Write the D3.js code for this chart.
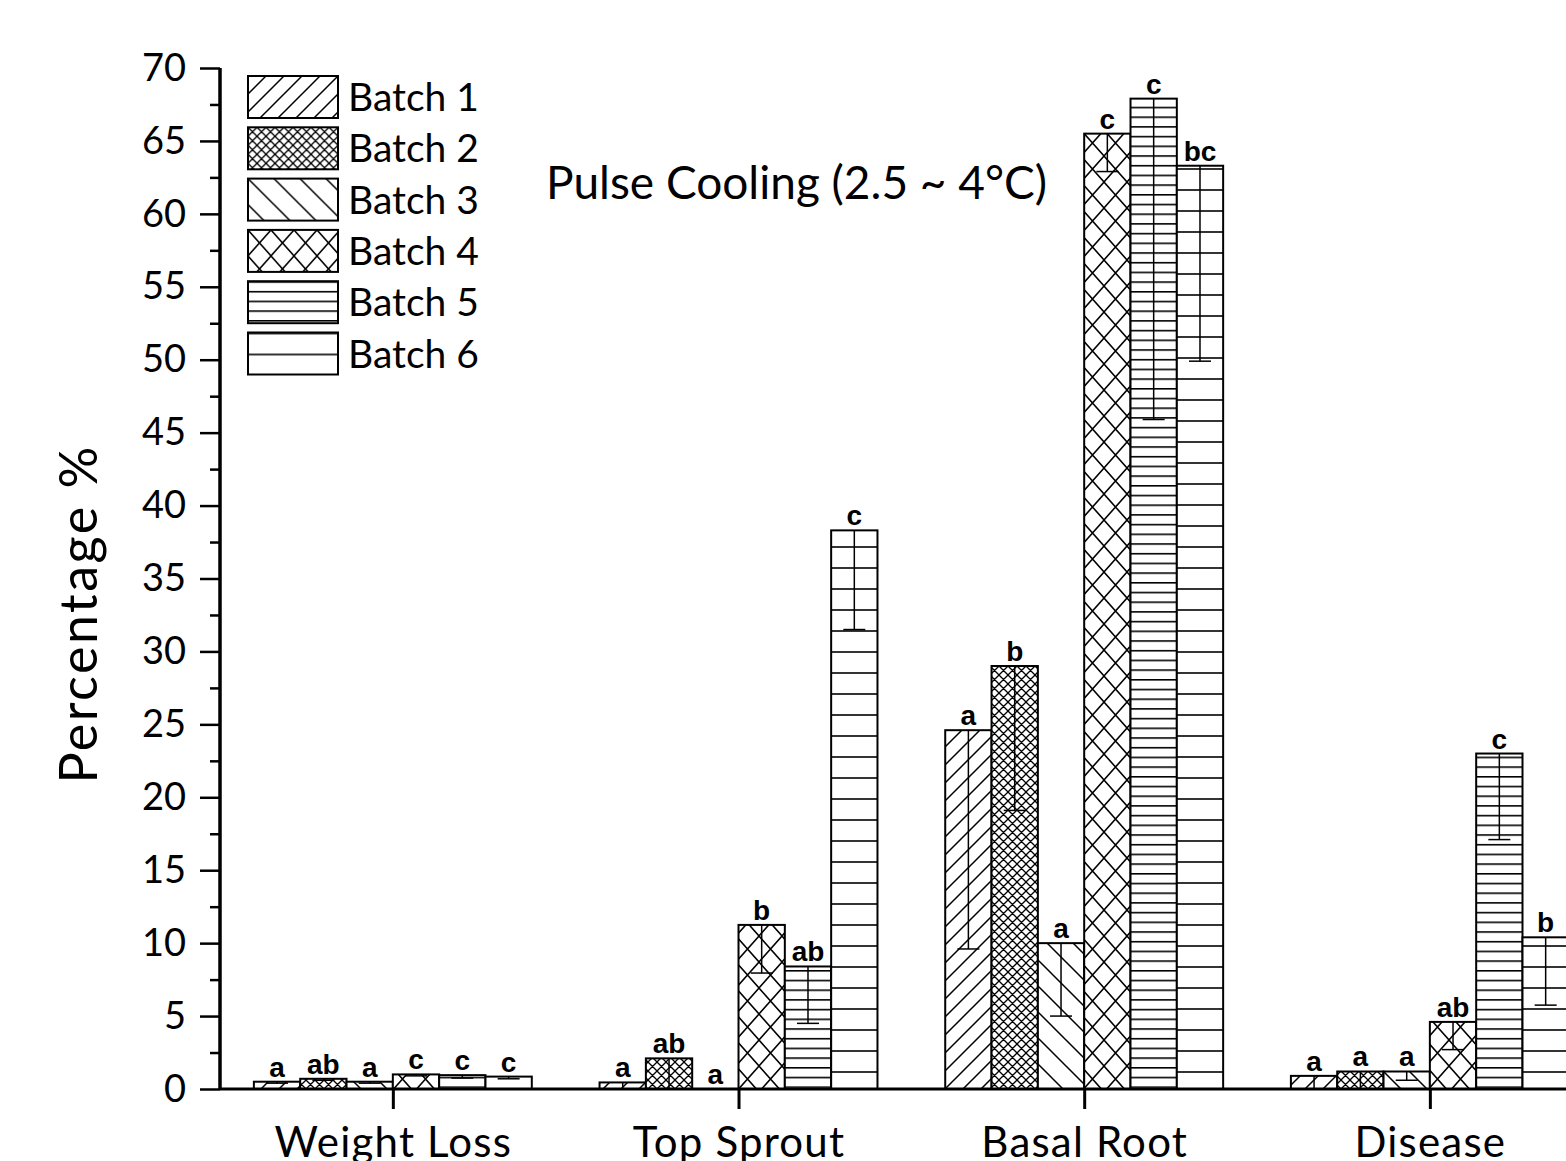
<!DOCTYPE html>
<html>
<head>
<meta charset="utf-8">
<script src="https://cdn.jsdelivr.net/npm/d3@7"></script>
<style>
  html, body { margin: 0; padding: 0; background: #fff; overflow: hidden; }
  svg { display: block; }
</style>
</head>
<body>
<svg id="chart" width="1566" height="1161"></svg>
<script>
// Categories and batch names
const categories = ["Weight Loss", "Top Sprout", "Basal Root", "Disease"];
const batchNames = ["Batch 1", "Batch 2", "Batch 3", "Batch 4", "Batch 5", "Batch 6"];

// Mean percentages per batch (one value per category)
const batch1 = [0.5, 0.45, 24.6, 0.9];
const batch2 = [0.7, 2.1, 29.0, 1.2];
const batch3 = [0.5, 0.0, 10.0, 1.2];
const batch4 = [1.0, 11.25, 65.5, 4.6];
const batch5 = [0.95, 8.4, 67.9, 23.0];
const batch6 = [0.85, 38.3, 63.3, 10.4];

// Lower error (drawn downward from the bar top)
const batch1Err = [0.1, 0.45, 15.0, 0.9];
const batch2Err = [0.1, 2.1, 9.9, 1.2];
const batch3Err = [0.1, 0.0, 5.0, 0.6];
const batch4Err = [0.1, 3.3, 2.6, 1.9];
const batch5Err = [0.2, 3.9, 22.0, 5.9];
const batch6Err = [0.15, 6.8, 13.4, 4.65];

// Significance letters
const batch1Sig = ["a", "a", "a", "a"];
const batch2Sig = ["ab", "ab", "b", "a"];
const batch3Sig = ["a", "a", "a", "a"];
const batch4Sig = ["c", "b", "c", "ab"];
const batch5Sig = ["c", "ab", "c", "c"];
const batch6Sig = ["c", "c", "bc", "b"];

// Axis ticks
const yMajorTicks = [0, 5, 10, 15, 20, 25, 30, 35, 40, 45, 50, 55, 60, 65, 70];
const yMinorTicks = [2.5, 7.5, 12.5, 17.5, 22.5, 27.5, 32.5, 37.5, 42.5, 47.5, 52.5, 57.5, 62.5, 67.5];

const titleText = "Pulse Cooling (2.5 ~ 4°C)";
const yTitle = "Percentage %";

const values = [batch1, batch2, batch3, batch4, batch5, batch6];
const errors = [batch1Err, batch2Err, batch3Err, batch4Err, batch5Err, batch6Err];
const sigs = [batch1Sig, batch2Sig, batch3Sig, batch4Sig, batch5Sig, batch6Sig];

const svg = d3.select("#chart");
const FONT = "Lato, 'Noto Sans', sans-serif";

// Scales: category index on x, percentage on y
const x = d3.scaleLinear().domain([0.5, 4.5]).range([220, 1602.7]);
const y = d3.scaleLinear().domain([0, 70]).range([1089, 68]);
const barW = 0.134; // width of one bar in category units

// Hatch patterns, one per batch
const defs = svg.append("defs");
function pat(id, w, h, d, sw) {
  const p = defs.append("pattern").attr("id", id)
    .attr("patternUnits", "userSpaceOnUse").attr("width", w).attr("height", h);
  p.append("rect").attr("width", w).attr("height", h).attr("fill", "#fff");
  p.append("path").attr("d", d).attr("stroke", "#000").attr("stroke-width", sw)
    .attr("fill", "none");
}
pat("p1", 18, 18, "M0,18L18,0M-4.5,4.5L4.5,-4.5M13.5,22.5L22.5,13.5", 1.5);
pat("p2", 9, 9, "M0,0L9,9M9,0L0,9M-2,7L2,11M7,-2L11,2M-2,2L2,-2M7,11L11,7", 1.3);
pat("p3", 26, 26, "M0,0L26,26M-6,20L6,32M20,-6L32,6", 1.5);
pat("p4", 23, 26, "M0,0L23,26M23,0L0,26", 1.5);
pat("p5", 10, 9.7, "M0,0.8H10", 1.6);
pat("p6", 10, 21, "M0,1H10", 1.6);
const fills = ["url(#p1)", "url(#p2)", "url(#p3)", "url(#p4)", "url(#p5)", "url(#p6)"];

// Flatten to bar records
const bars = [];
categories.forEach((c, ci) => {
  values.forEach((vals, bi) => {
    bars.push({
      ci, bi,
      x0: ci + 1 + (bi - 3) * barW,
      v: vals[ci], e: errors[bi][ci], s: sigs[bi][ci]
    });
  });
});

// Bars
svg.append("g").selectAll("rect").data(bars).join("rect")
  .attr("x", d => x(d.x0))
  .attr("y", d => y(d.v))
  .attr("width", d => x(d.x0 + barW) - x(d.x0))
  .attr("height", d => y(0) - y(d.v))
  .attr("fill", d => fills[d.bi])
  .attr("stroke", "#000")
  .attr("stroke-width", 2);

// Error bars (lower side)
const eg = svg.append("g").attr("stroke", "#000").attr("stroke-width", 1.5);
bars.filter(d => d.e > 0).forEach(d => {
  const cx = x(d.x0 + barW / 2);
  eg.append("line").attr("x1", cx).attr("x2", cx).attr("y1", y(d.v)).attr("y2", y(d.v - d.e));
  eg.append("line").attr("x1", cx - 11).attr("x2", cx + 11).attr("y1", y(d.v - d.e)).attr("y2", y(d.v - d.e));
});

// Significance letters
svg.append("g").selectAll("text").data(bars).join("text")
  .attr("x", d => x(d.x0 + barW / 2))
  .attr("y", d => y(d.v) - 5)
  .attr("text-anchor", "middle")
  .attr("font-family", "'Liberation Sans', Arial, sans-serif")
  .attr("font-weight", "bold")
  .attr("font-size", 28)
  .text(d => d.s);

// Y axis
const yAxis = svg.append("g").attr("transform", `translate(${x(0.5)},0)`);
yAxis.call(d3.axisLeft(y).tickValues(yMajorTicks).tickSize(20).tickPadding(14).tickFormat(d3.format("d")));
yAxis.append("g").call(d3.axisLeft(y).tickValues(yMinorTicks).tickSize(10).tickFormat(""));
yAxis.selectAll(".domain").attr("stroke-width", 3).attr("d", `M0,${y(70)}V${y(0)}`);
yAxis.selectAll(".tick line").attr("stroke-width", 2.5);
yAxis.selectAll(".tick text").attr("font-family", FONT).attr("font-size", 38).attr("fill", "#000");

// X axis
const xAxis = svg.append("g").attr("transform", `translate(0,${y(0)})`);
xAxis.call(d3.axisBottom(x).tickValues([1, 2, 3, 4]).tickSize(20).tickPadding(18)
  .tickFormat(i => categories[i - 1]));
xAxis.select(".domain").attr("stroke-width", 3).attr("d", `M${x(0.5)},0H${x(4.5)}`);
xAxis.selectAll(".tick line").attr("stroke-width", 3);
xAxis.selectAll(".tick text").attr("font-family", FONT).attr("font-size", 42)
  .attr("letter-spacing", 1.2).attr("fill", "#000");

// Y axis title
svg.append("text")
  .attr("transform", "translate(97,614) rotate(-90)")
  .attr("text-anchor", "middle")
  .attr("font-family", FONT).attr("font-size", 52)
  .attr("letter-spacing", 2.5)
  .text(yTitle);

// Chart title
svg.append("text")
  .attr("x", 546).attr("y", 199)
  .attr("font-family", FONT).attr("font-size", 46)
  .text(titleText);

// Legend
const lg = svg.append("g").attr("transform", "translate(248,76)");
batchNames.forEach((n, i) => {
  const g = lg.append("g").attr("transform", `translate(0,${i * 51.3})`);
  g.append("rect").attr("width", 90).attr("height", 42)
    .attr("fill", fills[i]).attr("stroke", "#000").attr("stroke-width", 2);
  g.append("text").attr("x", 100).attr("y", 35)
    .attr("font-family", FONT).attr("font-size", 39).text(n);
});
</script>
</body>
</html>
